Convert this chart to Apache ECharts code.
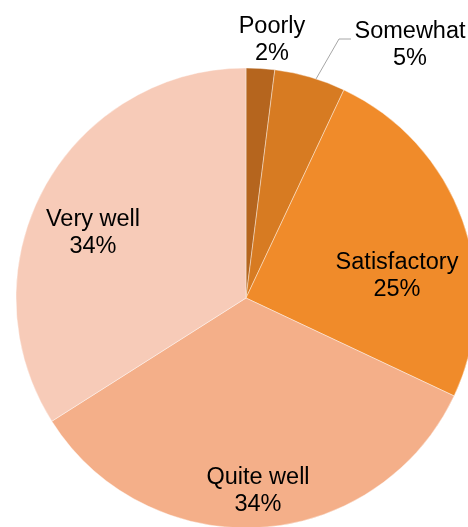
<!DOCTYPE html>
<html>
<head>
<meta charset="utf-8">
<script src="https://cdn.jsdelivr.net/npm/echarts@6/dist/echarts.min.js"></script>
<style>
  html, body { margin: 0; padding: 0; background: #fff; }
  #chart { width: 468px; height: 527px; }
</style>
</head>
<body>
<div id="chart"></div>
<script>
// answers, clockwise from 12 o'clock
const categories = ['Poorly', 'Somewhat', 'Satisfactory', 'Quite well', 'Very well'];
const shares = [2, 5, 25, 34, 34];
const colors = ['#b5651e', '#d77b22', '#f08b2a', '#f4af89', '#f7cbb8'];

// where excel put each label (block centre), and the one leader line
const labelSpots = [[272, 40], [410, 45], [397, 276], [258, 491], [93, 233]];
const leaderLine = [[316, 79], [339, 39], [351, 39]];

const chart = echarts.init(document.getElementById('chart'));

chart.setOption({
  animation: false,
  series: [{
    type: 'pie',
    center: [246, 298],
    radius: 230,
    startAngle: 90,
    clockwise: true,
    avoidLabelOverlap: false,
    itemStyle: { borderColor: '#fff', borderWidth: 0.4 },
    label: {
      show: true,
      position: 'outside',
      formatter: '{b}\n{c}%',
      fontFamily: 'Liberation Sans, Arial, sans-serif',
      fontSize: 23.5,
      lineHeight: 27,
      color: '#000'
    },
    labelLine: { show: false, lineStyle: { color: '#a6a6a6', width: 1 } },
    labelLayout: function (p) {
      const spot = labelSpots[p.dataIndex];
      const out = { x: spot[0], y: spot[1], align: 'center', verticalAlign: 'middle' };
      if (p.dataIndex === 1) out.labelLinePoints = leaderLine;
      return out;
    },
    data: categories.map((name, i) => ({
      name: name,
      value: shares[i],
      itemStyle: { color: colors[i] },
      labelLine: { show: i === 1 }
    }))
  }]
});
</script>
</body>
</html>
